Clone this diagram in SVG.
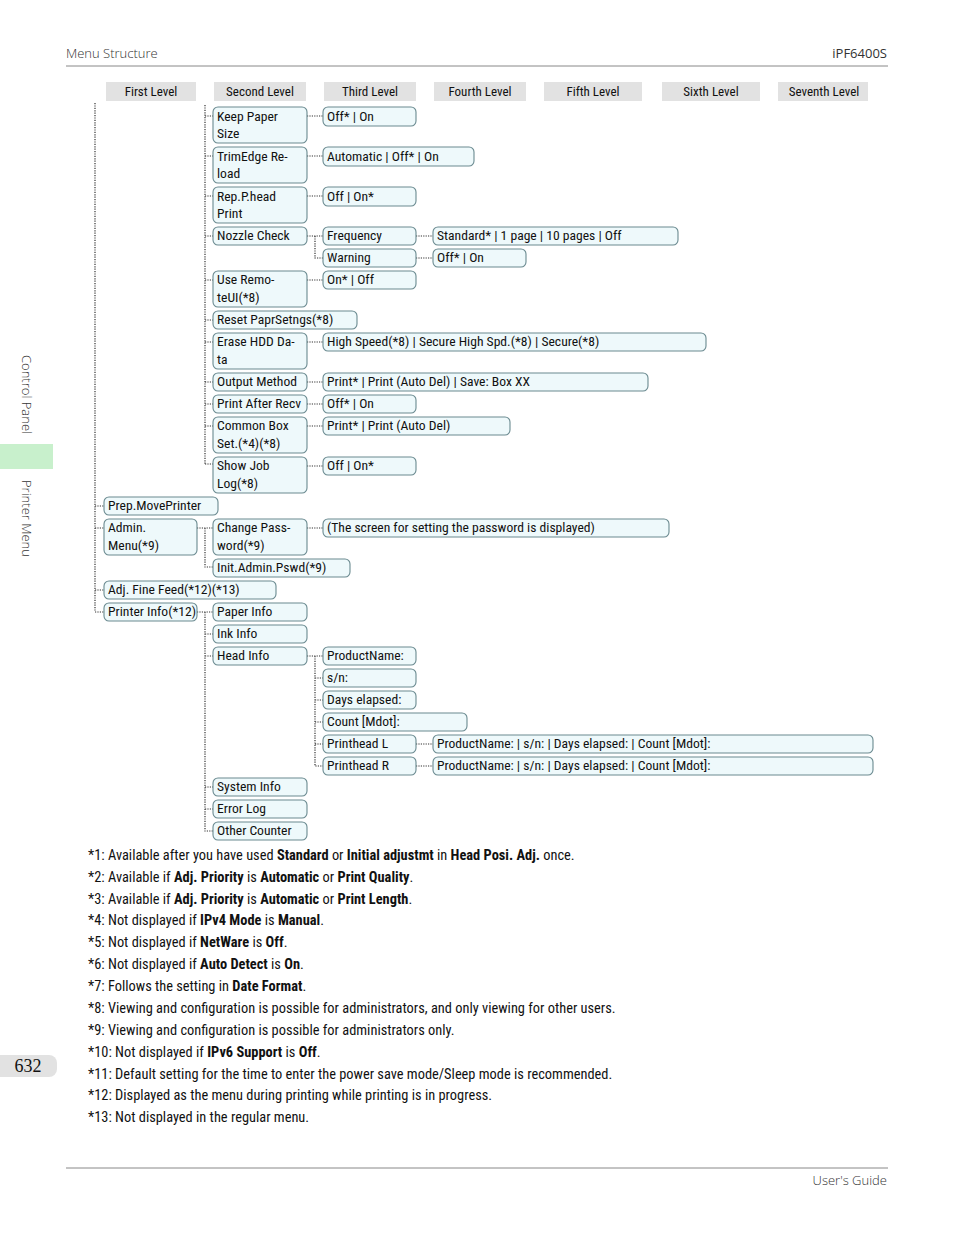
<svg xmlns="http://www.w3.org/2000/svg" width="954" height="1235" viewBox="0 0 954 1235">
<style>
text{font-family:"Liberation Sans Narrow","Roboto Condensed","Liberation Sans",Arial,sans-serif;fill:#111}
.b{fill:#eef9fb;stroke:#6a8a90;stroke-width:1.1}
.t{font-size:13.6px}
.h{fill:#e2e2e2}
.ht{font-size:13px;text-anchor:middle}
.c{fill:none;stroke:#333;stroke-width:1.2;stroke-dasharray:1.2 1.2}
.f{font-size:14.4px}
.hd{font-family:"Open Sans","Liberation Sans",sans-serif;font-size:13px;fill:#333}
</style>
<rect width="954" height="1235" fill="#fff"/>
<text class="hd" x="66" y="58" style="font-weight:300">Menu Structure</text>
<text class="hd" x="887" y="58" text-anchor="end">iPF6400S</text>
<line x1="66" y1="66" x2="888" y2="66" stroke="#888"/>
<line x1="66" y1="1168" x2="888" y2="1168" stroke="#888"/>
<text class="hd" x="887" y="1185" text-anchor="end" style="font-weight:300">User's Guide</text>
<text class="hd" transform="translate(22,355) rotate(90)" style="font-weight:300">Control Panel</text>
<rect x="0" y="444" width="53" height="25" fill="#c8f0cc"/>
<text class="hd" transform="translate(22,480) rotate(90)" style="font-weight:300">Printer Menu</text>
<rect x="-10" y="1055" width="67" height="22" rx="8" fill="#e2e2e2"/>
<text x="28" y="1072" text-anchor="middle" style="font-family:'Liberation Serif',serif;font-size:18px">632</text>

<g id="headers">
<rect class="h" x="106" y="82" width="90" height="19"/><text class="ht" x="151" y="96">First Level</text>
<rect class="h" x="214" y="82" width="92" height="19"/><text class="ht" x="260" y="96">Second Level</text>
<rect class="h" x="324" y="82" width="92" height="19"/><text class="ht" x="370" y="96">Third Level</text>
<rect class="h" x="434" y="82" width="92" height="19"/><text class="ht" x="480" y="96">Fourth Level</text>
<rect class="h" x="544" y="82" width="98" height="19"/><text class="ht" x="593" y="96">Fifth Level</text>
<rect class="h" x="662" y="82" width="98" height="19"/><text class="ht" x="711" y="96">Sixth Level</text>
<rect class="h" x="778" y="82" width="90" height="19"/><text class="ht" x="824" y="96">Seventh Level</text>
</g>

<g id="connectors">
<path class="c" d="M95 103V611"/>
<path class="c" d="M95 506H104M95 528H104M95 590H104M95 612H104"/>
<path class="c" d="M205 105V464"/>
<path class="c" d="M205 116H213M205 156H213M205 196H213M205 236H213M205 280H213M205 320H213M205 342H213M205 382H213M205 404H213M205 426H213M205 464H213"/>
<path class="c" d="M197 528H213M205 528V567H213"/>
<path class="c" d="M197 612H213M205 612V831H213M205 634H213M205 656H213M205 787H213M205 809H213"/>
<path class="c" d="M307 116H323M307 156H323M307 196H323M307 236H323M307 280H323M307 342H323M307 382H323M307 404H323M307 426H323M307 466H323M307 528H323"/>
<path class="c" d="M315 236V258H323"/>
<path class="c" d="M416 236H433M416 258H433"/>
<path class="c" d="M307 656H323M315 656V766H323M315 678H323M315 700H323M315 722H323M315 744H323"/>
<path class="c" d="M416 744H433M416 766H433"/>
</g>

<g id="n_keep"><rect class="b" x="213" y="107" width="94" height="36" rx="5"/><text class="t" x="217" y="121">Keep Paper</text><text class="t" x="217" y="138">Size</text></g>
<g id="n_keep_v"><rect class="b" x="323" y="107" width="93" height="19" rx="5"/><text class="t" x="327" y="121">Off* | On</text></g>
<g id="n_trim"><rect class="b" x="213" y="147" width="94" height="36" rx="5"/><text class="t" x="217" y="161">TrimEdge Re-</text><text class="t" x="217" y="178">load</text></g>
<g id="n_trim_v"><rect class="b" x="323" y="147" width="151" height="19" rx="5"/><text class="t" x="327" y="161">Automatic | Off* | On</text></g>
<g id="n_rep"><rect class="b" x="213" y="187" width="94" height="36" rx="5"/><text class="t" x="217" y="201">Rep.P.head</text><text class="t" x="217" y="218">Print</text></g>
<g id="n_rep_v"><rect class="b" x="323" y="187" width="93" height="19" rx="5"/><text class="t" x="327" y="201">Off | On*</text></g>
<g id="n_nozzle"><rect class="b" x="213" y="227" width="94" height="18" rx="5"/><text class="t" x="217" y="240">Nozzle Check</text></g>
<g id="n_freq"><rect class="b" x="323" y="227" width="93" height="18" rx="5"/><text class="t" x="327" y="240">Frequency</text></g>
<g id="n_freq_v"><rect class="b" x="433" y="227" width="245" height="18" rx="5"/><text class="t" x="437" y="240">Standard* | 1 page | 10 pages | Off</text></g>
<g id="n_warn"><rect class="b" x="323" y="249" width="93" height="18" rx="5"/><text class="t" x="327" y="262">Warning</text></g>
<g id="n_warn_v"><rect class="b" x="433" y="249" width="93" height="18" rx="5"/><text class="t" x="437" y="262">Off* | On</text></g>
<g id="n_remote"><rect class="b" x="213" y="271" width="94" height="36" rx="5"/><text class="t" x="217" y="284">Use Remo-</text><text class="t" x="217" y="302">teUI(*8)</text></g>
<g id="n_remote_v"><rect class="b" x="323" y="271" width="93" height="18" rx="5"/><text class="t" x="327" y="284">On* | Off</text></g>
<g id="n_reset"><rect class="b" x="213" y="311" width="144" height="18" rx="5"/><text class="t" x="217" y="324">Reset PaprSetngs(*8)</text></g>
<g id="n_erase"><rect class="b" x="213" y="333" width="94" height="36" rx="5"/><text class="t" x="217" y="346">Erase HDD Da-</text><text class="t" x="217" y="364">ta</text></g>
<g id="n_erase_v"><rect class="b" x="323" y="333" width="383" height="18" rx="5"/><text class="t" x="327" y="346">High Speed(*8) | Secure High Spd.(*8) | Secure(*8)</text></g>
<g id="n_output"><rect class="b" x="213" y="373" width="94" height="18" rx="5"/><text class="t" x="217" y="386">Output Method</text></g>
<g id="n_output_v"><rect class="b" x="323" y="373" width="325" height="18" rx="5"/><text class="t" x="327" y="386">Print* | Print (Auto Del) | Save: Box XX</text></g>
<g id="n_after"><rect class="b" x="213" y="395" width="94" height="18" rx="5"/><text class="t" x="217" y="408">Print After Recv</text></g>
<g id="n_after_v"><rect class="b" x="323" y="395" width="93" height="18" rx="5"/><text class="t" x="327" y="408">Off* | On</text></g>
<g id="n_common"><rect class="b" x="213" y="417" width="94" height="36" rx="5"/><text class="t" x="217" y="430">Common Box</text><text class="t" x="217" y="448">Set.(*4)(*8)</text></g>
<g id="n_common_v"><rect class="b" x="323" y="417" width="187" height="18" rx="5"/><text class="t" x="327" y="430">Print* | Print (Auto Del)</text></g>
<g id="n_showjob"><rect class="b" x="213" y="457" width="94" height="36" rx="5"/><text class="t" x="217" y="470">Show Job</text><text class="t" x="217" y="488">Log(*8)</text></g>
<g id="n_showjob_v"><rect class="b" x="323" y="457" width="93" height="18" rx="5"/><text class="t" x="327" y="470">Off | On*</text></g>
<g id="n_prep"><rect class="b" x="104" y="497" width="114" height="18" rx="5"/><text class="t" x="108" y="510">Prep.MovePrinter</text></g>
<g id="n_admin"><rect class="b" x="104" y="519" width="93" height="36" rx="5"/><text class="t" x="108" y="532">Admin.</text><text class="t" x="108" y="550">Menu(*9)</text></g>
<g id="n_chpass"><rect class="b" x="213" y="519" width="94" height="36" rx="5"/><text class="t" x="217" y="532">Change Pass-</text><text class="t" x="217" y="550">word(*9)</text></g>
<g id="n_chpass_v"><rect class="b" x="323" y="519" width="346" height="18" rx="5"/><text class="t" x="327" y="532">(The screen for setting the password is displayed)</text></g>
<g id="n_init"><rect class="b" x="213" y="559" width="137" height="18" rx="5"/><text class="t" x="217" y="572">Init.Admin.Pswd(*9)</text></g>
<g id="n_adjff"><rect class="b" x="104" y="581" width="172" height="18" rx="5"/><text class="t" x="108" y="594">Adj. Fine Feed(*12)(*13)</text></g>
<g id="n_pinfo"><rect class="b" x="104" y="603" width="93" height="18" rx="5"/><text class="t" x="108" y="616">Printer Info(*12)</text></g>
<g id="n_paper"><rect class="b" x="213" y="603" width="94" height="18" rx="5"/><text class="t" x="217" y="616">Paper Info</text></g>
<g id="n_ink"><rect class="b" x="213" y="625" width="94" height="18" rx="5"/><text class="t" x="217" y="638">Ink Info</text></g>
<g id="n_head"><rect class="b" x="213" y="647" width="94" height="18" rx="5"/><text class="t" x="217" y="660">Head Info</text></g>
<g id="n_prod"><rect class="b" x="323" y="647" width="93" height="18" rx="5"/><text class="t" x="327" y="660">ProductName:</text></g>
<g id="n_sn"><rect class="b" x="323" y="669" width="93" height="18" rx="5"/><text class="t" x="327" y="682">s/n:</text></g>
<g id="n_days"><rect class="b" x="323" y="691" width="93" height="18" rx="5"/><text class="t" x="327" y="704">Days elapsed:</text></g>
<g id="n_count"><rect class="b" x="323" y="713" width="144" height="18" rx="5"/><text class="t" x="327" y="726">Count [Mdot]:</text></g>
<g id="n_phl"><rect class="b" x="323" y="735" width="93" height="18" rx="5"/><text class="t" x="327" y="748">Printhead L</text></g>
<g id="n_phl_v"><rect class="b" x="433" y="735" width="440" height="18" rx="5"/><text class="t" x="437" y="748">ProductName: | s/n: | Days elapsed: | Count [Mdot]:</text></g>
<g id="n_phr"><rect class="b" x="323" y="757" width="93" height="18" rx="5"/><text class="t" x="327" y="770">Printhead R</text></g>
<g id="n_phr_v"><rect class="b" x="433" y="757" width="440" height="18" rx="5"/><text class="t" x="437" y="770">ProductName: | s/n: | Days elapsed: | Count [Mdot]:</text></g>
<g id="n_sys"><rect class="b" x="213" y="778" width="94" height="18" rx="5"/><text class="t" x="217" y="791">System Info</text></g>
<g id="n_err"><rect class="b" x="213" y="800" width="94" height="18" rx="5"/><text class="t" x="217" y="813">Error Log</text></g>
<g id="n_other"><rect class="b" x="213" y="822" width="94" height="18" rx="5"/><text class="t" x="217" y="835">Other Counter</text></g>

<g id="footnotes">
<text class="f" x="88" y="860">*1: Available after you have used <tspan font-weight="bold">Standard</tspan> or <tspan font-weight="bold">Initial adjustmt</tspan> in <tspan font-weight="bold">Head Posi. Adj.</tspan> once.</text>
<text class="f" x="88" y="882">*2: Available if <tspan font-weight="bold">Adj. Priority</tspan> is <tspan font-weight="bold">Automatic</tspan> or <tspan font-weight="bold">Print Quality</tspan>.</text>
<text class="f" x="88" y="904">*3: Available if <tspan font-weight="bold">Adj. Priority</tspan> is <tspan font-weight="bold">Automatic</tspan> or <tspan font-weight="bold">Print Length</tspan>.</text>
<text class="f" x="88" y="925">*4: Not displayed if <tspan font-weight="bold">IPv4 Mode</tspan> is <tspan font-weight="bold">Manual</tspan>.</text>
<text class="f" x="88" y="947">*5: Not displayed if <tspan font-weight="bold">NetWare</tspan> is <tspan font-weight="bold">Off</tspan>.</text>
<text class="f" x="88" y="969">*6: Not displayed if <tspan font-weight="bold">Auto Detect</tspan> is <tspan font-weight="bold">On</tspan>.</text>
<text class="f" x="88" y="991">*7: Follows the setting in <tspan font-weight="bold">Date Format</tspan>.</text>
<text class="f" x="88" y="1013">*8: Viewing and configuration is possible for administrators, and only viewing for other users.</text>
<text class="f" x="88" y="1035">*9: Viewing and configuration is possible for administrators only.</text>
<text class="f" x="88" y="1057">*10: Not displayed if <tspan font-weight="bold">IPv6 Support</tspan> is <tspan font-weight="bold">Off</tspan>.</text>
<text class="f" x="88" y="1079">*11: Default setting for the time to enter the power save mode/Sleep mode is recommended.</text>
<text class="f" x="88" y="1100">*12: Displayed as the menu during printing while printing is in progress.</text>
<text class="f" x="88" y="1122">*13: Not displayed in the regular menu.</text>
</g>
</svg>
